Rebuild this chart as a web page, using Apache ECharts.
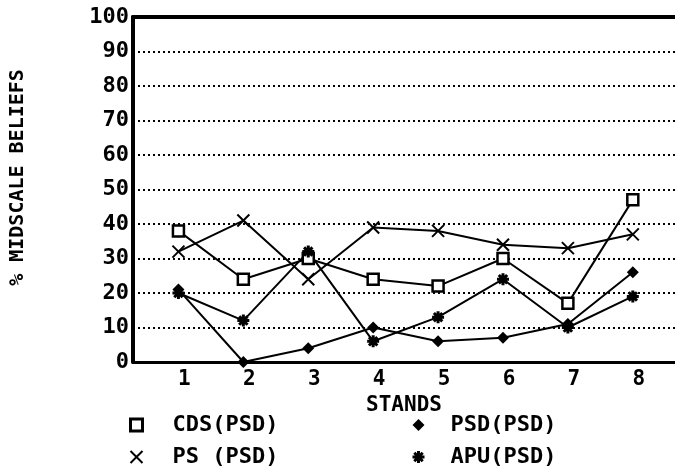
<!DOCTYPE html>
<html lang="en">
<head>
    <meta charset="UTF-8">
    <title>Midscale beliefs</title>
    <style>
        * { margin: 0; }
        body { background: #fff; }
        #main { width: 675px; height: 473px; }
    </style>
    <script src="https://cdn.jsdelivr.net/npm/echarts@6/dist/echarts.min.js"></script>
</head>
<body>
<div id="main"></div>
<script>
    var stands = [1, 2, 3, 4, 5, 6, 7, 8];
    var yTicks = [0, 10, 20, 30, 40, 50, 60, 70, 80, 90, 100];
    var cds = [38, 24, 30, 24, 22, 30, 17, 47];
    var ps = [32, 41, 24, 39, 38, 34, 33, 37];
    var psd = [21, 0, 4, 10, 6, 7, 11, 26];
    var apu = [20, 12, 32, 6, 13, 24, 10, 19];

    var FONT = '"DejaVu Sans Mono", monospace';
    var crossPath = 'path://M0,0L10,10M10,0L0,10';
    var starPath = 'path://M5,0L5,10M0,5L10,5M1.5,1.5L8.5,8.5M8.5,1.5L1.5,8.5';

    function pairs(vals) {
        var out = [];
        for (var i = 0; i < stands.length; i++) out.push([stands[i], vals[i]]);
        return out;
    }

    function lineSeries(name, vals, symbol, size, itemStyle) {
        return {
            name: name,
            type: 'line',
            data: pairs(vals),
            symbol: symbol,
            symbolSize: size,
            itemStyle: itemStyle,
            lineStyle: {color: '#000', width: 2},
            animation: false
        };
    }

    var myChart = echarts.init(document.getElementById('main'));
    var legendText = {fontFamily: FONT, fontWeight: 'bold', fontSize: 22, color: '#000'};

    var option = {
        grid: {left: 130, right: 0, top: 17, bottom: 111},
        xAxis: [
            {
                type: 'value',
                min: 0.3,
                max: 8.65,
                name: 'STANDS',
                nameLocation: 'middle',
                nameGap: 30,
                nameTextStyle: {fontFamily: FONT, fontWeight: 'bold', fontSize: 21, color: '#000'},
                axisLine: {lineStyle: {color: '#000', width: 3}},
                axisTick: {show: false},
                splitLine: {show: false},
                axisLabel: {
                    customValues: stands,
                    margin: 7,
                    padding: [0, 0, 0, 12],
                    fontFamily: FONT, fontWeight: 'bold', fontSize: 21, color: '#000'
                }
            },
            {
                type: 'value',
                position: 'top',
                min: 0.3,
                max: 8.65,
                axisLine: {lineStyle: {color: '#000', width: 4}},
                axisTick: {show: false},
                axisLabel: {show: false},
                splitLine: {show: false}
            }
        ],
        yAxis: {
            type: 'value',
            min: 0,
            max: 100,
            interval: 10,
            name: '% MIDSCALE BELIEFS',
            nameLocation: 'middle',
            nameRotate: 90,
            nameGap: 105,
            nameTextStyle: {fontFamily: FONT, fontWeight: 'bold', fontSize: 20, color: '#000', padding: [0, 0, 0, 24]},
            axisLine: {show: true, lineStyle: {color: '#000', width: 4}},
            axisTick: {show: false},
            axisLabel: {
                customValues: yTicks,
                margin: 4,
                fontFamily: FONT, fontWeight: 'bold', fontSize: 22, color: '#000'
            },
            splitLine: {lineStyle: {color: '#000', width: 2, type: [2, 3]}}
        },
        legend: [
            {
                orient: 'vertical',
                left: 128,
                top: 414,
                padding: 0,
                itemGap: 10,
                itemWidth: 12,
                itemHeight: 12,
                textStyle: Object.assign({padding: [0, 0, 0, 25]}, legendText),
                data: [
                    {name: 'CDS(PSD)', icon: 'rect', itemStyle: {color: '#fff', borderColor: '#000', borderWidth: 3}},
                    {name: 'PS (PSD)', icon: crossPath, itemStyle: {color: 'none', borderColor: '#000', borderWidth: 2}}
                ]
            },
            {
                orient: 'vertical',
                left: 410,
                top: 414,
                padding: 0,
                itemGap: 10,
                itemWidth: 12,
                itemHeight: 12,
                textStyle: Object.assign({padding: [0, 0, 0, 21]}, legendText),
                data: [
                    {name: 'PSD(PSD)', icon: 'diamond', itemStyle: {color: '#000', borderWidth: 0}},
                    {name: 'APU(PSD)', icon: starPath, itemStyle: {color: 'none', borderColor: '#000', borderWidth: 3}}
                ]
            }
        ],
        series: [
            lineSeries('CDS(PSD)', cds, 'rect', 11, {color: '#fff', borderColor: '#000', borderWidth: 2.5}),
            lineSeries('PS (PSD)', ps, crossPath, 12, {color: 'none', borderColor: '#000', borderWidth: 2}),
            lineSeries('PSD(PSD)', psd, 'diamond', 12, {color: '#000', borderWidth: 0}),
            lineSeries('APU(PSD)', apu, starPath, 12, {color: 'none', borderColor: '#000', borderWidth: 3})
        ]
    };
    myChart.setOption(option);
</script>
</body>
</html>
